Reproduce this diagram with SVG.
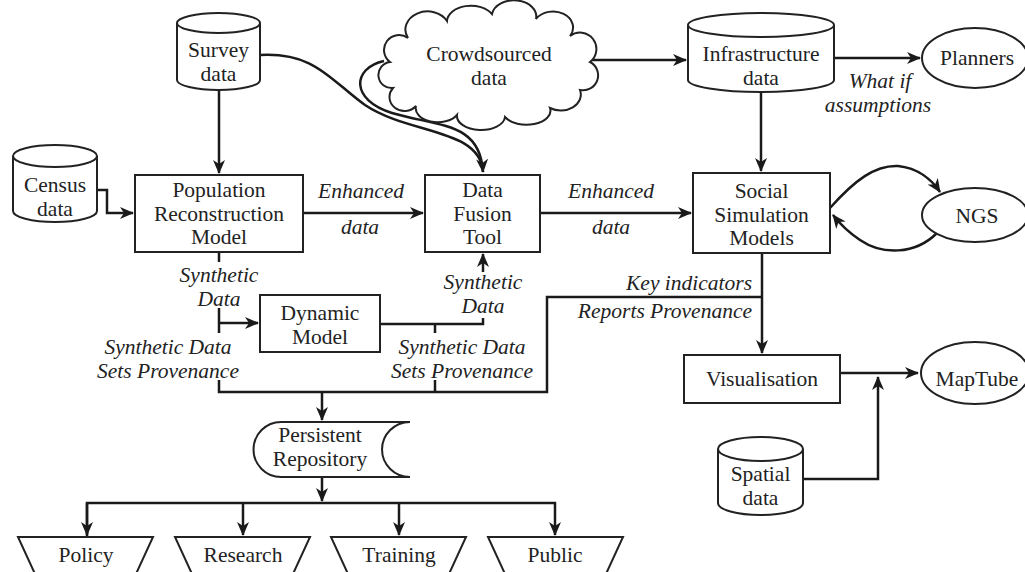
<svg xmlns="http://www.w3.org/2000/svg" width="1025" height="572" viewBox="0 0 1025 572">
<style>
.s{fill:#fff;stroke:#222;stroke-width:2}
.c{fill:none;stroke:#1a1a1a;stroke-width:2.5}
.t{font-family:"Liberation Serif","Times New Roman",serif;font-size:21.5px;fill:#222;text-anchor:middle}
.i{font-style:italic}
</style>
<defs>
<marker id="ah" markerWidth="14" markerHeight="12" refX="13" refY="6" orient="auto" markerUnits="userSpaceOnUse"><path d="M0,0 L14,6 L0,12 L4,6 Z" fill="#1a1a1a"/></marker>
</defs>
<rect width="1025" height="572" fill="#fff"/>
<g id="connectors">
<path class="c" d="M219,90 V173" marker-end="url(#ah)"/>
<path class="c" d="M97,190 H107 V213 H133" marker-end="url(#ah)"/>
<path class="c" d="M303,213 H423" marker-end="url(#ah)"/>
<path class="c" d="M540,213 H691" marker-end="url(#ah)"/>
<path class="c" d="M761,92 V171" marker-end="url(#ah)"/>
<path class="c" d="M590,60 H686" marker-end="url(#ah)"/>
<path class="c" d="M834,58 H920" marker-end="url(#ah)"/>
<path class="c" d="M260,55 C315,52 330,80 365,105 C410,135 480,128 483,172" marker-end="url(#ah)"/>
<path class="c" d="M384,61 C352,68 350,100 392,113 C440,127 480,122 483,172"/>
<path class="c" d="M830,208 C855,180 875,165 898,166 C918,168 932,180 940,192" marker-end="url(#ah)"/>
<path class="c" d="M937,233 C915,255 882,255 860,240 C848,232 840,224 833,215" marker-end="url(#ah)"/>
<path class="c" d="M219,252 V262 M219,308 V333 M219,380 V392 H547 V297 H762"/>
<path class="c" d="M219,323 H258" marker-end="url(#ah)"/>
<path class="c" d="M380,324 H483 V318 M435,324 V333 M435,380 V392"/>
<path class="c" d="M483,272 V254" marker-end="url(#ah)"/>
<path class="c" d="M762,253 V353" marker-end="url(#ah)"/>
<path class="c" d="M322,392 V420" marker-end="url(#ah)"/>
<path class="c" d="M322,477 V501" marker-end="url(#ah)"/>
<path class="c" d="M87,537 V503 H555 V535" marker-end="url(#ah)"/>
<path class="c" d="M87,503 V535" marker-end="url(#ah)"/>
<path class="c" d="M243,503 V535" marker-end="url(#ah)"/>
<path class="c" d="M399,503 V535" marker-end="url(#ah)"/>
<path class="c" d="M840,373 H918" marker-end="url(#ah)"/>
<path class="c" d="M803,479 H878 V377" marker-end="url(#ah)"/>
</g>
<g id="survey">
<path class="s" d="M177,23 V80 A41.5,10 0 0 0 260,80 V23 A41.5,10 0 0 0 177,23 Z M177,23 A41.5,10 0 0 0 260,23"/>
<text class="t" x="218.5" y="57">Survey</text><text class="t" x="218.5" y="80.5">data</text>
</g>
<g id="census">
<path class="s" d="M13,156 V211 A42,11 0 0 0 97,211 V156 A42,11 0 0 0 13,156 Z M13,156 A42,11 0 0 0 97,156"/>
<text class="t" x="55" y="192">Census</text><text class="t" x="55" y="215.5">data</text>
</g>
<g id="infrastructure">
<path class="s" d="M688,25 V80 A73,12 0 0 0 834,80 V25 A73,12 0 0 0 688,25 Z M688,25 A73,12 0 0 0 834,25"/>
<text class="t" x="761" y="61">Infrastructure</text><text class="t" x="761" y="84.5">data</text>
</g>
<g id="spatial">
<path class="s" d="M718,449 V503 A42.5,12 0 0 0 803,503 V449 A42.5,12 0 0 0 718,449 Z M718,449 A42.5,12 0 0 0 803,449"/>
<text class="t" x="760.5" y="481">Spatial</text><text class="t" x="760.5" y="504.5">data</text>
</g>
<g id="crowdsourced">
<path class="s" d="M390,62 A14,14 0 0 1 408,38 A22,18 0 0 1 447,21 A24,16 0 0 1 492,14 A22,16 0 0 1 536,19 A20,16 0 0 1 570,36 A16,16 0 0 1 590,62 A15,15 0 0 1 580,90 A20,16 0 0 1 550,108 A24,14 0 0 1 505,117 A24,14 0 0 1 457,115 A22,14 0 0 1 416,106 A15,14 0 0 1 393,88 A13,13 0 0 1 390,62 Z"/>
<text class="t" x="489" y="61">Crowdsourced</text><text class="t" x="489" y="84.5">data</text>
</g>
<g id="planners">
<ellipse class="s" cx="975" cy="58" rx="53" ry="30"/>
<text class="t" x="977" y="65">Planners</text>
</g>
<g id="population">
<rect class="s" x="135" y="175" width="168" height="77"/>
<text class="t" x="219" y="197">Population</text><text class="t" x="219" y="220.5">Reconstruction</text><text class="t" x="219" y="244">Model</text>
</g>
<g id="fusion">
<rect class="s" x="425" y="175" width="115" height="77"/>
<text class="t" x="482.5" y="197">Data</text><text class="t" x="482.5" y="220.5">Fusion</text><text class="t" x="482.5" y="244">Tool</text>
</g>
<g id="social">
<rect class="s" x="693" y="173" width="137" height="80"/>
<text class="t" x="761.5" y="198">Social</text><text class="t" x="761.5" y="221.5">Simulation</text><text class="t" x="761.5" y="245">Models</text>
</g>
<g id="ngs">
<ellipse class="s" cx="975" cy="215" rx="53" ry="27"/>
<text class="t" x="977" y="223">NGS</text>
</g>
<g id="dynamic">
<rect class="s" x="260" y="295" width="120" height="57"/>
<text class="t" x="320" y="320">Dynamic</text><text class="t" x="320" y="343.5">Model</text>
</g>
<g id="visualisation">
<rect class="s" x="684" y="355" width="156" height="48"/>
<text class="t" x="762" y="386">Visualisation</text>
</g>
<g id="maptube">
<ellipse class="s" cx="975" cy="373" rx="54" ry="31"/>
<text class="t" x="977" y="386">MapTube</text>
</g>
<g id="repository">
<path class="s" d="M281,422 H410 A28,27.5 0 0 0 410,477 H281 A27.5,27.5 0 0 1 281,422 Z"/>
<text class="t" x="320" y="442">Persistent</text><text class="t" x="320" y="465.5">Repository</text>
</g>
<g id="policy">
<path class="s" d="M18,537 H153 L124,600 H47 Z"/>
<text class="t" x="86" y="562">Policy</text>
</g>
<g id="research">
<path class="s" d="M175,537 H310 L281,600 H204 Z"/>
<text class="t" x="243" y="562">Research</text>
</g>
<g id="training">
<path class="s" d="M331,537 H466 L437,600 H360 Z"/>
<text class="t" x="399" y="562">Training</text>
</g>
<g id="public">
<path class="s" d="M488,537 H623 L594,600 H517 Z"/>
<text class="t" x="555" y="562">Public</text>
</g>
<g id="labels">
<text class="t i" x="361" y="198">Enhanced</text><text class="t i" x="360" y="234">data</text>
<text class="t i" x="611" y="198">Enhanced</text><text class="t i" x="611" y="234">data</text>
<text class="t i" x="880" y="88">What if</text><text class="t i" x="878" y="111.5">assumptions</text>
<text class="t i" x="219" y="282">Synthetic</text><text class="t i" x="219" y="305.5">Data</text>
<text class="t i" x="168" y="354">Synthetic Data</text><text class="t i" x="168" y="377.5">Sets Provenance</text>
<text class="t i" x="483" y="289">Synthetic</text><text class="t i" x="483" y="312.5">Data</text>
<text class="t i" x="462" y="354">Synthetic Data</text><text class="t i" x="462" y="377.5">Sets Provenance</text>
<text class="t i" x="752" y="290" style="text-anchor:end">Key indicators</text>
<text class="t i" x="752" y="318" style="text-anchor:end">Reports Provenance</text>
</g>
</svg>
